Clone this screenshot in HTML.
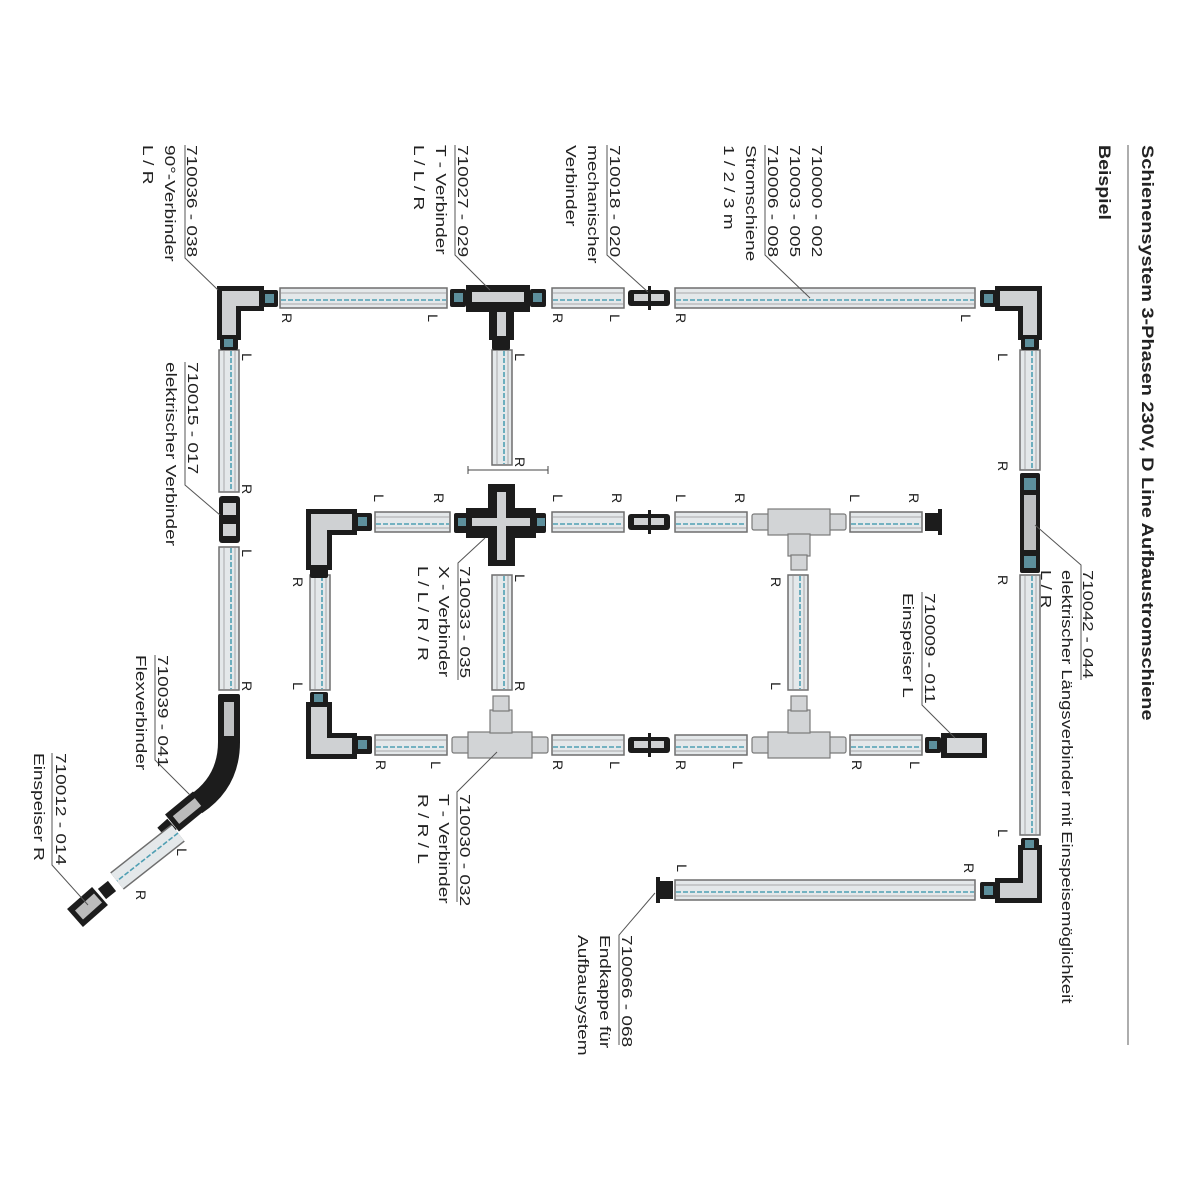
<!DOCTYPE html>
<html><head><meta charset="utf-8"><style>
html,body{margin:0;padding:0;background:#fff}
svg{display:block}
text{font-family:"Liberation Sans",sans-serif;fill:#222}
.t{font-size:15px}
.m{font-size:14px}
.r{fill:#e4e8ea;stroke:#6e6e6e;stroke-width:1.5}
.b{stroke:#4f9fb3;stroke-width:1.6;stroke-dasharray:5 2}
.g{stroke:#a9a9a9;stroke-width:1}
.k{fill:#1c1c1c}
.lt{fill:#d2d4d6;stroke:#7a7a7a;stroke-width:1.2}
.ld{stroke:#555;stroke-width:1;fill:none}
</style></head><body>
<svg width="1200" height="1200" viewBox="0 0 1200 1200" xmlns="http://www.w3.org/2000/svg">

<!-- Title -->
<text transform="translate(1142,145) rotate(90) scale(1.17,1)" style="font-size:17px;font-weight:bold">Schienensystem 3-Phasen 230V, D Line Aufbaustromschiene</text>
<text transform="translate(1099,145) rotate(90) scale(1.15,1)" style="font-size:17px;font-weight:bold">Beispiel</text>
<line x1="1128" y1="145" x2="1128" y2="1045" stroke="#777" stroke-width="1.2"/>

<!-- Horizontal rails -->
<g>
<rect class="r" x="280" y="288" width="167" height="20"/><line class="g" x1="281" y1="293" x2="446" y2="293"/><line class="b" x1="281" y1="300" x2="446" y2="300"/><line class="g" x1="281" y1="304" x2="446" y2="304"/>
<rect class="r" x="552" y="288" width="72" height="20"/><line class="g" x1="553" y1="293" x2="623" y2="293"/><line class="b" x1="553" y1="300" x2="623" y2="300"/><line class="g" x1="553" y1="304" x2="623" y2="304"/>
<rect class="r" x="675" y="288" width="300" height="20"/><line class="g" x1="676" y1="293" x2="974" y2="293"/><line class="b" x1="676" y1="300" x2="974" y2="300"/><line class="g" x1="676" y1="304" x2="974" y2="304"/>
<rect class="r" x="375" y="512" width="75" height="20"/><line class="g" x1="376" y1="517" x2="449" y2="517"/><line class="b" x1="376" y1="524" x2="449" y2="524"/><line class="g" x1="376" y1="528" x2="449" y2="528"/>
<rect class="r" x="552" y="512" width="72" height="20"/><line class="g" x1="553" y1="517" x2="623" y2="517"/><line class="b" x1="553" y1="524" x2="623" y2="524"/><line class="g" x1="553" y1="528" x2="623" y2="528"/>
<rect class="r" x="675" y="512" width="72" height="20"/><line class="g" x1="676" y1="517" x2="746" y2="517"/><line class="b" x1="676" y1="524" x2="746" y2="524"/><line class="g" x1="676" y1="528" x2="746" y2="528"/>
<rect class="r" x="850" y="512" width="72" height="20"/><line class="g" x1="851" y1="517" x2="921" y2="517"/><line class="b" x1="851" y1="524" x2="921" y2="524"/><line class="g" x1="851" y1="528" x2="921" y2="528"/>
<rect class="r" x="375" y="735" width="72" height="20"/><line class="g" x1="376" y1="740" x2="446" y2="740"/><line class="b" x1="376" y1="747" x2="446" y2="747"/><line class="g" x1="376" y1="751" x2="446" y2="751"/>
<rect class="r" x="552" y="735" width="72" height="20"/><line class="g" x1="553" y1="740" x2="623" y2="740"/><line class="b" x1="553" y1="747" x2="623" y2="747"/><line class="g" x1="553" y1="751" x2="623" y2="751"/>
<rect class="r" x="675" y="735" width="72" height="20"/><line class="g" x1="676" y1="740" x2="746" y2="740"/><line class="b" x1="676" y1="747" x2="746" y2="747"/><line class="g" x1="676" y1="751" x2="746" y2="751"/>
<rect class="r" x="850" y="735" width="72" height="20"/><line class="g" x1="851" y1="740" x2="921" y2="740"/><line class="b" x1="851" y1="747" x2="921" y2="747"/><line class="g" x1="851" y1="751" x2="921" y2="751"/>
<rect class="r" x="675" y="880" width="300" height="20"/><line class="g" x1="676" y1="885" x2="974" y2="885"/><line class="b" x1="676" y1="892" x2="974" y2="892"/><line class="g" x1="676" y1="896" x2="974" y2="896"/>
</g>

<!-- Vertical rails -->
<g>
<rect class="r" x="219" y="350" width="20" height="142"/><line class="g" x1="224" y1="351" x2="224" y2="491"/><line class="b" x1="231" y1="351" x2="231" y2="491"/><line class="g" x1="235" y1="351" x2="235" y2="491"/>
<rect class="r" x="219" y="547" width="20" height="143"/><line class="g" x1="224" y1="548" x2="224" y2="689"/><line class="b" x1="231" y1="548" x2="231" y2="689"/><line class="g" x1="235" y1="548" x2="235" y2="689"/>
<rect class="r" x="492" y="350" width="20" height="115"/><line class="g" x1="497" y1="351" x2="497" y2="464"/><line class="b" x1="504" y1="351" x2="504" y2="464"/><line class="g" x1="508" y1="351" x2="508" y2="464"/>
<rect class="r" x="1020" y="350" width="20" height="120"/><line class="g" x1="1025" y1="351" x2="1025" y2="469"/><line class="b" x1="1032" y1="351" x2="1032" y2="469"/><line class="g" x1="1036" y1="351" x2="1036" y2="469"/>
<rect class="r" x="1020" y="575" width="20" height="260"/><line class="g" x1="1025" y1="576" x2="1025" y2="834"/><line class="b" x1="1032" y1="576" x2="1032" y2="834"/><line class="g" x1="1036" y1="576" x2="1036" y2="834"/>
<rect class="r" x="310" y="575" width="20" height="115"/><line class="g" x1="315" y1="576" x2="315" y2="689"/><line class="b" x1="322" y1="576" x2="322" y2="689"/><line class="g" x1="326" y1="576" x2="326" y2="689"/>
<rect class="r" x="492" y="575" width="20" height="115"/><line class="g" x1="497" y1="576" x2="497" y2="689"/><line class="b" x1="504" y1="576" x2="504" y2="689"/><line class="g" x1="508" y1="576" x2="508" y2="689"/>
<rect class="r" x="788" y="575" width="20" height="115"/><line class="g" x1="793" y1="576" x2="793" y2="689"/><line class="b" x1="800" y1="576" x2="800" y2="689"/><line class="g" x1="804" y1="576" x2="804" y2="689"/>
</g>

<line x1="468" y1="470" x2="548" y2="470" stroke="#444" stroke-width="1"/>
<line x1="468" y1="466" x2="468" y2="474" stroke="#444"/><line x1="548" y1="466" x2="548" y2="474" stroke="#444"/>

<!-- Connectors -->
<path class="k" d="M217,286 H264 V311 H241 V340 H217 Z"/>
<path d="M222,291 H259 V306 H236 V335 H222 Z" fill="#cfd1d3"/>
<rect class="k" x="262" y="290" width="16" height="17" rx="2"/><rect x="265" y="294" width="9" height="9" fill="#5d8f9c"/>
<rect class="k" x="220" y="336" width="18" height="14" rx="2"/><rect x="224" y="339" width="9" height="8" fill="#5d8f9c"/>
<rect class="k" x="450" y="289" width="16" height="18" rx="2"/><rect x="454" y="293" width="9" height="9" fill="#5d8f9c"/>
<rect class="k" x="466" y="285" width="64" height="27"/>
<rect x="472" y="292" width="52" height="10" fill="#cfd1d3"/>
<rect class="k" x="530" y="289" width="16" height="18" rx="2"/><rect x="533" y="293" width="9" height="9" fill="#5d8f9c"/>
<rect class="k" x="489" y="310" width="25" height="30"/><rect x="497" y="312" width="9" height="24" fill="#cfd1d3"/>
<rect class="k" x="492" y="338" width="18" height="12" rx="2"/>
<rect class="k" x="628" y="290" width="42" height="16" rx="3"/><rect x="634" y="294" width="30" height="7" fill="#cfd1d3"/><rect class="k" x="648" y="286" width="3" height="24"/>
<rect class="k" x="628" y="514" width="42" height="16" rx="3"/><rect x="634" y="518" width="30" height="7" fill="#cfd1d3"/><rect class="k" x="648" y="510" width="3" height="24"/>
<rect class="k" x="628" y="737" width="42" height="16" rx="3"/><rect x="634" y="741" width="30" height="7" fill="#cfd1d3"/><rect class="k" x="648" y="733" width="3" height="24"/>
<path class="k" d="M995,286 H1042 V340 H1018 V311 H995 Z"/>
<path d="M1000,291 H1037 V335 H1023 V306 H1000 Z" fill="#cfd1d3"/>
<rect class="k" x="980" y="290" width="16" height="17" rx="2"/><rect x="984" y="294" width="9" height="9" fill="#5d8f9c"/>
<rect class="k" x="1021" y="336" width="18" height="14" rx="2"/><rect x="1025" y="339" width="9" height="8" fill="#5d8f9c"/>
<rect class="k" x="1020" y="473" width="20" height="100" rx="2"/>
<rect x="1024" y="495" width="12" height="55" fill="#bdbfc1"/>
<rect x="1024" y="478" width="12" height="12" fill="#5d8f9c"/><rect x="1024" y="556" width="12" height="12" fill="#5d8f9c"/>
<path class="k" d="M1018,845 H1042 V903 H995 V878 H1018 Z"/>
<path d="M1023,850 H1037 V898 H1000 V883 H1023 Z" fill="#cfd1d3"/>
<rect class="k" x="1021" y="838" width="18" height="12" rx="2"/><rect x="1025" y="840" width="9" height="8" fill="#5d8f9c"/>
<rect class="k" x="980" y="882" width="16" height="17" rx="2"/><rect x="984" y="886" width="9" height="9" fill="#5d8f9c"/>
<rect class="k" x="660" y="881" width="13" height="18"/><rect class="k" x="656" y="877" width="4" height="26"/>
<rect class="k" x="925" y="513" width="13" height="18"/><rect class="k" x="938" y="509" width="4" height="26"/>
<rect class="k" x="219" y="496" width="21" height="47" rx="3"/><rect x="223" y="503" width="13" height="12" fill="#cfd1d3"/><rect x="223" y="524" width="13" height="12" fill="#cfd1d3"/>
<rect class="k" x="218" y="694" width="22" height="50" rx="2"/><rect x="224" y="702" width="10" height="34" fill="#bfc1c3"/>
<path d="M229,742 Q229,782 196,804" stroke="#1c1c1c" stroke-width="22" fill="none"/>
<line x1="200" y1="800" x2="172" y2="823" stroke="#1c1c1c" stroke-width="22"/>
<line x1="198" y1="802" x2="176" y2="820" stroke="#bbb" stroke-width="10"/>
<line x1="172" y1="824" x2="162" y2="833" stroke="#1c1c1c" stroke-width="14"/>
<line x1="178" y1="833" x2="117" y2="881" stroke="#6e6e6e" stroke-width="22"/>
<line x1="178" y1="833" x2="117" y2="881" stroke="#e4e8ea" stroke-width="19"/>
<line x1="178" y1="833" x2="117" y2="881" stroke="#4f9fb3" stroke-width="1.6" stroke-dasharray="5 2"/>
<line x1="112" y1="886" x2="102" y2="894" stroke="#1c1c1c" stroke-width="13"/>
<line x1="100" y1="896" x2="75" y2="918" stroke="#1c1c1c" stroke-width="24"/>
<line x1="98" y1="898" x2="79" y2="915" stroke="#bbb" stroke-width="12"/>

<path class="k" d="M306,509 H357 V535 H332 V570 H306 Z"/>
<path d="M311,514 H352 V530 H327 V565 H311 Z" fill="#cfd1d3"/>
<rect class="k" x="355" y="513" width="17" height="18" rx="2"/><rect x="358" y="517" width="9" height="9" fill="#5d8f9c"/>
<rect class="k" x="310" y="568" width="18" height="10" rx="2"/>
<rect class="k" x="454" y="513" width="92" height="20" rx="2"/>
<rect class="k" x="466" y="508" width="70" height="30"/>
<rect class="k" x="488" y="484" width="27" height="82"/>
<rect x="472" y="518" width="58" height="8" fill="#cfd1d3"/><rect x="497" y="492" width="9" height="68" fill="#cfd1d3"/>
<rect x="458" y="518" width="8" height="8" fill="#5d8f9c"/><rect x="537" y="518" width="8" height="8" fill="#5d8f9c"/>
<rect class="lt" x="752" y="514" width="18" height="16" rx="2"/><rect class="lt" x="828" y="514" width="18" height="16" rx="2"/>
<rect class="lt" x="768" y="509" width="62" height="26"/>
<rect class="lt" x="788" y="534" width="22" height="22"/><rect class="lt" x="791" y="555" width="16" height="15"/>
<path class="k" d="M306,702 H332 V733 H357 V759 H306 Z"/>
<path d="M311,707 H327 V738 H352 V754 H311 Z" fill="#cfd1d3"/>
<rect class="k" x="310" y="692" width="18" height="12" rx="2"/><rect x="314" y="694" width="9" height="8" fill="#5d8f9c"/>
<rect class="k" x="355" y="736" width="17" height="18" rx="2"/><rect x="358" y="740" width="9" height="9" fill="#5d8f9c"/>
<rect class="lt" x="452" y="737" width="18" height="16" rx="2"/><rect class="lt" x="530" y="737" width="18" height="16" rx="2"/>
<rect class="lt" x="468" y="732" width="64" height="26"/>
<rect class="lt" x="490" y="710" width="22" height="23"/><rect class="lt" x="493" y="696" width="16" height="15"/>
<rect class="lt" x="752" y="737" width="18" height="16" rx="2"/><rect class="lt" x="828" y="737" width="18" height="16" rx="2"/>
<rect class="lt" x="768" y="732" width="62" height="26"/>
<rect class="lt" x="788" y="710" width="22" height="23"/><rect class="lt" x="791" y="696" width="16" height="15"/>
<rect class="k" x="925" y="737" width="16" height="16" rx="2"/><rect x="929" y="741" width="8" height="8" fill="#5d8f9c"/>
<rect class="k" x="941" y="733" width="46" height="25"/><rect x="947" y="738" width="35" height="15" fill="#d6d8da"/>

<!-- Leader lines -->
<path class="ld" d="M185,145 V258 L218,290"/>
<path class="ld" d="M455,145 V255 L490,290"/>
<path class="ld" d="M607,145 V255 L648,292"/>
<path class="ld" d="M765,145 V255 L810,298"/>
<path class="ld" d="M185,362 V485 L220,515"/>
<path class="ld" d="M155,655 V760 L190,795"/>
<path class="ld" d="M52,753 V865 L88,905"/>
<path class="ld" d="M485,538 L458,563 V680"/>
<path class="ld" d="M497,752 L457,792 V902"/>
<path class="ld" d="M955,738 L922,705 V592"/>
<path class="ld" d="M1035,525 L1081,565 V680"/>
<path class="ld" d="M655,893 L619,935 V1045"/>

<!-- Labels -->
<g class="t">
<text transform="translate(187,145) rotate(90) scale(1.27,1)">710036 - 038</text>
<text transform="translate(165,145) rotate(90) scale(1.27,1)">90°-Verbinder</text>
<text transform="translate(143,145) rotate(90) scale(1.27,1)">L / R</text>
<text transform="translate(458,145) rotate(90) scale(1.27,1)">710027 - 029</text>
<text transform="translate(436,145) rotate(90) scale(1.27,1)">T - Verbinder</text>
<text transform="translate(414,145) rotate(90) scale(1.27,1)">L / L / R</text>
<text transform="translate(610,145) rotate(90) scale(1.27,1)">710018 - 020</text>
<text transform="translate(588,145) rotate(90) scale(1.27,1)">mechanischer</text>
<text transform="translate(566,145) rotate(90) scale(1.27,1)">Verbinder</text>
<text transform="translate(812,145) rotate(90) scale(1.27,1)">710000 - 002</text>
<text transform="translate(790,145) rotate(90) scale(1.27,1)">710003 - 005</text>
<text transform="translate(768,145) rotate(90) scale(1.27,1)">710006 - 008</text>
<text transform="translate(746,145) rotate(90) scale(1.27,1)">Stromschiene</text>
<text transform="translate(724,145) rotate(90) scale(1.27,1)">1 / 2 / 3 m</text>
<text transform="translate(188,362) rotate(90) scale(1.27,1)">710015 - 017</text>
<text transform="translate(166,362) rotate(90) scale(1.27,1)">elektrischer Verbinder</text>
<text transform="translate(158,655) rotate(90) scale(1.27,1)">710039 - 041</text>
<text transform="translate(136,655) rotate(90) scale(1.27,1)">Flexverbinder</text>
<text transform="translate(56,753) rotate(90) scale(1.27,1)">710012 - 014</text>
<text transform="translate(34,753) rotate(90) scale(1.27,1)">Einspeiser R</text>
<text transform="translate(460,566) rotate(90) scale(1.27,1)">710033 - 035</text>
<text transform="translate(439,566) rotate(90) scale(1.27,1)">X - Verbinder</text>
<text transform="translate(418,566) rotate(90) scale(1.27,1)">L / L / R / R</text>
<text transform="translate(460,794) rotate(90) scale(1.27,1)">710030 - 032</text>
<text transform="translate(439,794) rotate(90) scale(1.27,1)">T - Verbinder</text>
<text transform="translate(418,794) rotate(90) scale(1.27,1)">R / R / L</text>
<text transform="translate(925,593) rotate(90) scale(1.27,1)">710009 - 011</text>
<text transform="translate(903,593) rotate(90) scale(1.27,1)">Einspeiser L</text>
<text transform="translate(1083,570) rotate(90) scale(1.23,1)">710042 - 044</text>
<text transform="translate(1062,570) rotate(90) scale(1.23,1)">elektrischer Längsverbinder mit Einspeisemöglichkeit</text>
<text transform="translate(1041,570) rotate(90) scale(1.23,1)">L / R</text>
<text transform="translate(622,935) rotate(90) scale(1.27,1)">710066 - 068</text>
<text transform="translate(600,935) rotate(90) scale(1.27,1)">Endkappe für</text>
<text transform="translate(578,935) rotate(90) scale(1.27,1)">Aufbausystem</text>
</g>

<!-- L/R markers -->
<g class="m" text-anchor="middle">
<text transform="translate(282,318) rotate(90)">R</text>
<text transform="translate(428,318) rotate(90)">L</text>
<text transform="translate(553,318) rotate(90)">R</text>
<text transform="translate(610,318) rotate(90)">L</text>
<text transform="translate(676,318) rotate(90)">R</text>
<text transform="translate(961,318) rotate(90)">L</text>
<text transform="translate(242,357) rotate(90)">L</text>
<text transform="translate(242,489) rotate(90)">R</text>
<text transform="translate(242,553) rotate(90)">L</text>
<text transform="translate(242,686) rotate(90)">R</text>
<text transform="translate(515,357) rotate(90)">L</text>
<text transform="translate(515,462) rotate(90)">R</text>
<text transform="translate(998,357) rotate(90)">L</text>
<text transform="translate(998,466) rotate(90)">R</text>
<text transform="translate(998,580) rotate(90)">R</text>
<text transform="translate(998,833) rotate(90)">L</text>
<text transform="translate(374,498) rotate(90)">L</text>
<text transform="translate(434,498) rotate(90)">R</text>
<text transform="translate(553,498) rotate(90)">L</text>
<text transform="translate(612,498) rotate(90)">R</text>
<text transform="translate(676,498) rotate(90)">L</text>
<text transform="translate(735,498) rotate(90)">R</text>
<text transform="translate(850,498) rotate(90)">L</text>
<text transform="translate(909,498) rotate(90)">R</text>
<text transform="translate(293,582) rotate(90)">R</text>
<text transform="translate(293,686) rotate(90)">L</text>
<text transform="translate(515,578) rotate(90)">L</text>
<text transform="translate(515,686) rotate(90)">R</text>
<text transform="translate(771,582) rotate(90)">R</text>
<text transform="translate(771,686) rotate(90)">L</text>
<text transform="translate(376,765) rotate(90)">R</text>
<text transform="translate(431,765) rotate(90)">L</text>
<text transform="translate(553,765) rotate(90)">R</text>
<text transform="translate(610,765) rotate(90)">L</text>
<text transform="translate(676,765) rotate(90)">R</text>
<text transform="translate(733,765) rotate(90)">L</text>
<text transform="translate(852,765) rotate(90)">R</text>
<text transform="translate(910,765) rotate(90)">L</text>
<text transform="translate(677,868) rotate(90)">L</text>
<text transform="translate(964,868) rotate(90)">R</text>
<text transform="translate(177,852) rotate(90)">L</text>
<text transform="translate(136,895) rotate(90)">R</text>
</g>
</svg>
</body></html>
